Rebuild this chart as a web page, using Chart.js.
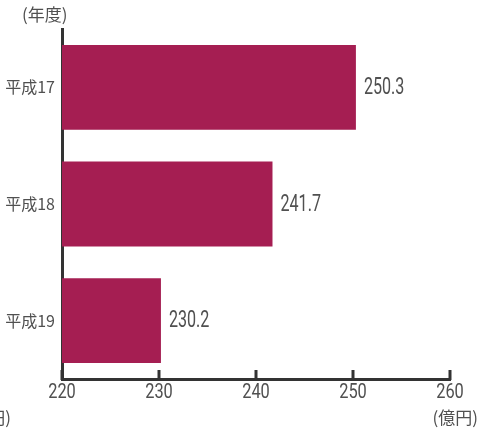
<!DOCTYPE html>
<html><head><meta charset="utf-8">
<script src="https://cdn.jsdelivr.net/npm/chart.js@4/dist/chart.umd.min.js"></script>
<style>html,body{margin:0;padding:0;background:#fff;}#wrap{width:490px;height:428px;}</style>
</head><body><div id="wrap"><canvas id="c" width="490" height="428"></canvas></div>
<script>
const categories = ['平成17', '平成18', '平成19'];
const values = [250.3, 241.7, 230.2];
const xTicks = [220, 230, 240, 250, 260];
const yUnit = '(年度)';
const xUnit = '(億円)';

const NUMFONT = "'Roboto', sans-serif";
const CJKFONT = "'Noto Sans CJK JP', sans-serif";

function narrowText(ctx, text, x, y, size, sx, align) {
  ctx.save();
  ctx.font = size + "px " + NUMFONT;
  ctx.textBaseline = 'middle';
  const w = ctx.measureText(text).width * sx;
  let left = x;
  if (align === 'center') left = x - w / 2;
  else if (align === 'right') left = x - w;
  ctx.translate(left, y);
  ctx.scale(sx, 1);
  ctx.textAlign = 'left';
  ctx.fillText(text, 0, 0);
  ctx.restore();
}

const extras = {
  id: 'extras',
  afterDraw(chart) {
    const ctx = chart.ctx;
    const xs = chart.scales.x;
    const area = chart.chartArea;
    ctx.save();
    // inward tick marks
    ctx.strokeStyle = '#333';
    ctx.lineWidth = 3;
    xTicks.forEach(v => {
      const px = xs.getPixelForValue(v);
      ctx.beginPath();
      ctx.moveTo(px, area.bottom - 9);
      ctx.lineTo(px, area.bottom + 1);
      ctx.stroke();
    });
    // x tick labels
    ctx.fillStyle = '#505050';
    xTicks.forEach(v => {
      narrowText(ctx, String(v), xs.getPixelForValue(v), area.bottom + 14, 21, 0.78, 'center');
    });
    // value labels
    const meta = chart.getDatasetMeta(0);
    meta.data.forEach((bar, i) => {
      narrowText(ctx, values[i].toFixed(1), bar.x + 8, bar.y + 1, 23, 0.7, 'left');
    });
    // unit labels
    ctx.font = "17px " + CJKFONT;
    ctx.fillStyle = '#505050';
    ctx.textBaseline = 'middle';
    ctx.textAlign = 'left';
    ctx.fillText(yUnit, 22, 15);
    ctx.textAlign = 'right';
    ctx.fillText(xUnit, 478, 418);
    ctx.fillText(xUnit, 11, 418);
    ctx.restore();
  }
};

new Chart(document.getElementById('c'), {
  type: 'bar',
  data: {
    labels: categories,
    datasets: [{
      data: values,
      backgroundColor: '#A51E52',
      borderWidth: 0,
      categoryPercentage: 1,
      barPercentage: 0.727
    }]
  },
  options: {
    indexAxis: 'y',
    responsive: false,
    animation: false,
    layout: { padding: { top: 29, right: 40, left: 0, bottom: 0 } },
    plugins: { legend: { display: false }, tooltip: { enabled: false } },
    scales: {
      x: {
        min: 220, max: 260,
        afterFit(s) { s.height = 49; },
        afterBuildTicks(s) { s.ticks = xTicks.map(v => ({ value: v })); },
        grid: { display: false, drawTicks: false },
        border: { display: true, color: '#333', width: 3 },
        ticks: { display: false }
      },
      y: {
        afterFit(s) { s.width = 62; },
        grid: { display: false, drawTicks: false },
        border: { display: true, color: '#333', width: 3 },
        ticks: { color: '#505050', font: { family: CJKFONT, size: 16 }, padding: 7 }
      }
    }
  },
  plugins: [extras]
});
</script></body></html>
